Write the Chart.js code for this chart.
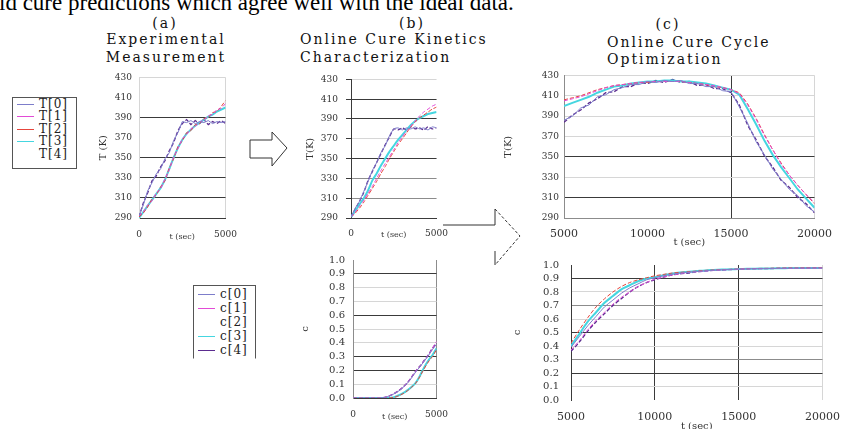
<!DOCTYPE html>
<html>
<head>
<meta charset="utf-8">
<script src="https://cdn.jsdelivr.net/npm/chart.js@4.4.0/dist/chart.umd.min.js"></script>
<style>
body { margin: 0; width: 854px; height: 429px; overflow: hidden; background: #fff; position: relative; font-family: "DejaVu Serif", serif; color: #111; }
canvas { position: absolute; }
.line { position: absolute; white-space: nowrap; font-size: 14px; letter-spacing: 2px; line-height: 16px; }
.mid { transform: translateX(-50%); }
.top { position: absolute; left: -1px; top: -9px; font-family: "Liberation Serif", serif; font-size: 23px; line-height: 23px; white-space: nowrap; color: #000; }
.leg { position: absolute; border: 1px solid #555; background: #fff; }
.row { position: absolute; left: 0; height: 12px; font-size: 12px; line-height: 12px; letter-spacing: 1px; white-space: nowrap; color: #222; }
.row span.s { position: absolute; top: 6px; width: 17px; border-top-width: 1px; }
.row span.t { position: absolute; top: 0; }
svg { position: absolute; left: 0; top: 0; }
</style>
</head>
<body>
<div class="top">ld cure predictions which agree well with the ideal data.</div>

<div class="line mid" style="left:165px;top:15px">(a)</div>
<div class="line mid" style="left:166px;top:31px">Experimental</div>
<div class="line mid" style="left:166px;top:49px">Measurement</div>
<div class="line mid" style="left:412px;top:15px">(b)</div>
<div class="line" style="left:300px;top:31px">Online Cure Kinetics</div>
<div class="line" style="left:300px;top:49px">Characterization</div>
<div class="line mid" style="left:668px;top:16px">(c)</div>
<div class="line" style="left:607px;top:34px">Online Cure Cycle</div>
<div class="line" style="left:607px;top:51px">Optimization</div>

<canvas id="aT"></canvas>
<canvas id="bT"></canvas>
<canvas id="bC"></canvas>
<canvas id="cT"></canvas>
<canvas id="cC"></canvas>

<div class="leg" id="legT" style="left:12px;top:97px;width:63px;height:70px"></div>
<div class="leg" id="legC" style="left:193px;top:285px;width:61px;height:72px;border-bottom-color:transparent"></div>

<svg width="854" height="429">
  <polygon points="250,140 272,140 272,132 287,148 272,166 272,158 250,158" fill="none" stroke="#333" stroke-width="1"/>
  <path d="M443,225 L495,225 L495,209" fill="none" stroke="#333" stroke-width="1"/>
  <path d="M495,209 L520,236 L495,265" fill="none" stroke="#333" stroke-width="1" stroke-dasharray="3,2"/>
  <path d="M495,265 L495,251" fill="none" stroke="#333" stroke-width="1"/>
</svg>

<script>
// time axes (sec)
const tShort = [0, 250, 500, 750, 1000, 1250, 1500, 1750, 2000, 2250, 2500, 2750, 3000, 3250, 3500, 3750, 4000, 4250, 4500, 4750, 5000];
const tLong = [5000, 5500, 6000, 6500, 7000, 7500, 8000, 8500, 9000, 9500, 10000, 10500, 11000, 11500, 12000, 12500, 13000, 13500, 14000, 14500, 15000, 15500, 16000, 16500, 17000, 17500, 18000, 18500, 19000, 19500, 20000];

const tNames = ['T[0]', 'T[1]', 'T[2]', 'T[3]', 'T[4]'];
const cNames = ['c[0]', 'c[1]', 'c[2]', 'c[3]', 'c[4]'];

// (a) experimental measurement, T (K)
const measT0 = [292, 303, 317, 325, 334, 339, 349, 355, 367, 375, 386, 385, 387, 384, 386, 385, 387, 384, 386, 385, 386];
const measT1 = [292, 296, 303, 307, 315, 319, 329, 338, 351, 359, 369, 373, 379, 381, 386, 387, 392, 393, 398, 399, 404];
const measT2 = [291, 295, 301, 309, 313, 321, 327, 340, 349, 361, 367, 375, 377, 383, 384, 389, 390, 395, 396, 401, 407];
const measT3 = [290, 296, 302, 308, 314, 320, 328, 339, 350, 360, 368, 374, 378, 382, 385, 388, 391, 393, 396, 398, 400];
const measT4 = [291, 305, 315, 327, 332, 341, 347, 357, 365, 377, 384, 388, 383, 387, 384, 388, 383, 386, 384, 387, 384];

// (b) kinetics characterization, T (K)
const kinT0 = [291, 300, 307, 317, 327, 338, 346, 356, 363, 373, 380, 381, 379, 381, 380, 382, 380, 381, 379, 382, 381];
const kinT1 = [291, 296, 302, 308, 315, 322, 330, 338, 345, 352, 359, 366, 372, 378, 383, 388, 393, 397, 400, 403, 405];
const kinT2 = [291, 295, 300, 306, 313, 320, 327, 335, 342, 350, 357, 364, 370, 376, 382, 387, 391, 394, 397, 400, 402];
const kinT3 = [291, 297, 304, 310, 318, 328, 335, 343, 350, 357, 363, 369, 374, 379, 384, 388, 391, 393, 395, 396, 397];
const kinT4 = [291, 299, 307, 316, 328, 337, 346, 355, 364, 372, 380, 379, 381, 379, 382, 380, 381, 379, 382, 380, 381];

// (b) degree of cure c
const kinC0 = [0, 0, 0, 0, 0, 0, 0, 0.002, 0.007, 0.018, 0.033, 0.052, 0.077, 0.107, 0.145, 0.188, 0.225, 0.265, 0.305, 0.35, 0.39];
const kinC1 = [0, 0, 0, 0, 0, 0, 0, 0.002, 0.008, 0.02, 0.035, 0.055, 0.08, 0.11, 0.15, 0.195, 0.23, 0.27, 0.31, 0.36, 0.41];
const kinC2 = [0, 0, 0, 0, 0, 0, 0, 0, 0, 0.001, 0.006, 0.017, 0.032, 0.052, 0.077, 0.107, 0.155, 0.21, 0.26, 0.3, 0.35];
const kinC3 = [0, 0, 0, 0, 0, 0, 0, 0, 0, 0.002, 0.008, 0.02, 0.035, 0.055, 0.08, 0.11, 0.16, 0.22, 0.27, 0.31, 0.36];
const kinC4 = [0, 0, 0, 0, 0, 0, 0, 0.002, 0.008, 0.02, 0.035, 0.055, 0.08, 0.11, 0.15, 0.195, 0.23, 0.27, 0.31, 0.36, 0.40];

// (c) cure cycle optimization, T (K)
const optT0 = [386, 390, 398, 401, 409, 411, 416, 418, 421, 421, 424, 423, 425, 424, 425, 422, 422, 419, 419, 415, 414, 399, 383, 365, 352, 338, 328, 318, 312, 302, 296];
const optT1 = [405, 407, 409, 412, 415, 418, 420, 421, 422, 423, 424, 424, 424, 424, 424, 423, 422, 421, 420, 418, 416, 412, 401, 387, 371, 357, 343, 332, 322, 313, 305];
const optT2 = [406, 408, 410, 413, 416, 418, 420, 421, 422, 423, 423, 424, 424, 424, 424, 423, 422, 421, 419, 418, 416, 413, 402, 388, 372, 357, 344, 332, 322, 313, 304];
const optT3 = [400, 403, 406, 409, 413, 416, 419, 420, 422, 423, 424, 424, 425, 425, 424, 424, 423, 422, 420, 418, 416, 411, 397, 382, 366, 352, 340, 329, 318, 309, 300];
const optT4 = [384, 391, 396, 403, 407, 413, 414, 419, 419, 423, 422, 425, 423, 426, 423, 424, 420, 421, 417, 417, 413, 401, 381, 367, 351, 340, 327, 320, 310, 304, 295];

// (c) degree of cure c
const optC0 = [0.39, 0.47, 0.55, 0.62, 0.69, 0.74, 0.79, 0.83, 0.86, 0.89, 0.905, 0.92, 0.93, 0.94, 0.945, 0.952, 0.957, 0.961, 0.964, 0.967, 0.969, 0.971, 0.972, 0.973, 0.974, 0.975, 0.976, 0.976, 0.977, 0.977, 0.978];
const optC1 = [0.37, 0.44, 0.52, 0.59, 0.65, 0.71, 0.76, 0.80, 0.84, 0.87, 0.895, 0.91, 0.925, 0.935, 0.945, 0.95, 0.955, 0.96, 0.963, 0.966, 0.969, 0.971, 0.972, 0.973, 0.974, 0.975, 0.975, 0.976, 0.976, 0.977, 0.977];
const optC2 = [0.42, 0.52, 0.61, 0.69, 0.75, 0.80, 0.84, 0.87, 0.89, 0.905, 0.92, 0.93, 0.94, 0.945, 0.95, 0.955, 0.96, 0.963, 0.966, 0.968, 0.97, 0.972, 0.974, 0.975, 0.976, 0.977, 0.978, 0.978, 0.979, 0.979, 0.98];
const optC3 = [0.40, 0.49, 0.58, 0.65, 0.72, 0.77, 0.82, 0.85, 0.88, 0.90, 0.91, 0.925, 0.935, 0.945, 0.95, 0.955, 0.96, 0.963, 0.966, 0.968, 0.97, 0.972, 0.973, 0.974, 0.975, 0.976, 0.977, 0.977, 0.978, 0.978, 0.978];
const optC4 = [0.36, 0.43, 0.51, 0.58, 0.64, 0.70, 0.75, 0.80, 0.84, 0.87, 0.89, 0.91, 0.925, 0.935, 0.94, 0.95, 0.955, 0.96, 0.963, 0.966, 0.97, 0.971, 0.972, 0.973, 0.974, 0.975, 0.975, 0.976, 0.976, 0.977, 0.977];

const colors = ['#7d7dca', '#e24bd6', '#e6453c', '#45d6e0', '#5b2c8f'];
const dashes = [[], [4, 2], [4, 2], [], [4, 2]];
const widths = [1, 1, 1, 2, 1.3];

var DARK = '#3a3a3a', MID = '#8c8c8c', LIGHT = '#d6d6d6', NONE = 'rgba(0,0,0,0)';

function sets(t, arrs, tension) {
    return arrs.map(function (a, i) {
        return {
            data: t.map(function (x, j) { return { x: x, y: a[j] }; }),
            borderColor: colors[i],
            borderDash: dashes[i],
            borderWidth: widths[i],
            pointRadius: 0,
            tension: tension
        };
    });
}

function byLabel(map, fallback) {
    return function (ctx) {
        if (!ctx.tick) return fallback;
        var c = map[ctx.tick.label];
        return c === undefined ? fallback : c;
    };
}

function panel(id, p) {
    var pt = 8, pr = 18;
    var cv = document.getElementById(id);
    var w = p.yw + (p.x2 - p.x1) + pr;
    var h = pt + (p.y2 - p.y1) + p.xh;
    cv.width = w; cv.height = h;
    cv.style.left = (p.x1 - p.yw) + 'px';
    cv.style.top = (p.y1 - pt) + 'px';
    cv.style.width = w + 'px'; cv.style.height = h + 'px';

    return new Chart(cv, {
        type: 'line',
        data: { datasets: p.datasets },
        options: {
            responsive: false,
            animation: false,
            layout: { padding: { top: pt, right: pr, left: 0, bottom: 0 } },
            plugins: { legend: { display: false }, tooltip: { enabled: false } },
            scales: {
                x: {
                    type: 'linear', min: p.xmin, max: p.xmax,
                    afterFit: function (s) { s.height = p.xh; },
                    ticks: {
                        stepSize: 5000, padding: p.xpad, maxRotation: 0, autoSkip: false, color: '#333',
                        font: { family: 'DejaVu Serif', size: p.xfont },
                        callback: function (v) { return String(v); }
                    },
                    grid: { color: byLabel(p.xgrid, NONE), drawTicks: false },
                    border: { color: p.xborder },
                    title: { display: true, text: 't (sec)', color: '#333', padding: 0,
                        font: { family: 'DejaVu Serif', size: p.xfont - 1 } }
                },
                y: {
                    min: p.ymin, max: p.ymax,
                    afterFit: function (s) { s.width = p.yw; },
                    ticks: {
                        stepSize: p.ystep, padding: p.ypad, autoSkip: false, color: '#333',
                        font: { family: 'DejaVu Serif', size: p.yfont },
                        callback: function (v) { return p.ydec ? v.toFixed(1) : String(Math.round(v)); }
                    },
                    grid: { color: byLabel(p.ygrid, LIGHT), drawTicks: !!p.ytick, tickLength: p.ytick || 0, tickColor: DARK },
                    border: { color: p.yborder },
                    title: { display: true, text: p.ytitle, color: '#333', padding: { top: 0, bottom: 0 },
                        font: { family: 'DejaVu Serif', size: 10 } }
                }
            }
        }
    });
}

panel('aT', {
    x1: 139, x2: 230, y1: 73, y2: 218, yw: 42, xh: 24,
    xmin: 0, xmax: 5000, xpad: 11, xfont: 9,
    ymin: 290, ymax: 430, ystep: 20, ypad: 7, yfont: 9, ytitle: 'T (K)',
    xgrid: { '0': LIGHT, '5000': LIGHT }, xborder: DARK,
    ygrid: { '430': LIGHT, '410': NONE, '390': DARK, '370': NONE, '350': DARK, '330': DARK, '310': DARK, '290': DARK },
    yborder: LIGHT,
    datasets: sets(tShort, [measT0, measT1, measT2, measT3, measT4], 0)
});

panel('bT', {
    x1: 351, x2: 440, y1: 74, y2: 218, yw: 47, xh: 22,
    xmin: 0, xmax: 5000, xpad: 10, xfont: 9,
    ymin: 290, ymax: 430, ystep: 20, ypad: 8, yfont: 9, ytitle: 'T(K)', ytick: 5,
    xgrid: {}, xborder: DARK,
    ygrid: { '430': LIGHT, '410': DARK, '390': DARK, '370': LIGHT, '350': DARK, '330': MID, '310': MID, '290': DARK },
    yborder: DARK,
    datasets: sets(tShort, [kinT0, kinT1, kinT2, kinT3, kinT4], 0.2)
});

panel('bC', {
    x1: 353, x2: 441, y1: 254, y2: 398, yw: 54, xh: 24,
    xmin: 0, xmax: 5000, xpad: 11, xfont: 9,
    ymin: 0, ymax: 1, ystep: 0.1, ypad: 8, yfont: 10, ydec: true, ytitle: 'c',
    xgrid: { '0': MID, '5000': MID }, xborder: DARK,
    ygrid: { '1.0': NONE, '0.9': DARK, '0.8': LIGHT, '0.7': LIGHT, '0.6': DARK, '0.5': LIGHT, '0.4': LIGHT, '0.3': DARK, '0.2': DARK, '0.1': LIGHT, '0.0': DARK },
    yborder: MID,
    datasets: sets(tShort, [kinC0, kinC1, kinC2, kinC3, kinC4], 0.3)
});

panel('cT', {
    x1: 564, x2: 824, y1: 73, y2: 218, yw: 62, xh: 30,
    xmin: 5000, xmax: 20000, xpad: 10, xfont: 11,
    ymin: 290, ymax: 430, ystep: 20, ypad: 5, yfont: 9, ytitle: 'T(K)',
    xgrid: { '5000': MID, '10000': NONE, '15000': DARK, '20000': LIGHT }, xborder: MID,
    ygrid: { '430': LIGHT, '410': LIGHT, '390': LIGHT, '370': LIGHT, '350': DARK, '330': LIGHT, '310': DARK, '290': MID },
    yborder: MID,
    datasets: sets(tLong, [optT0, optT1, optT2, optT3, optT4], 0)
});

panel('cC', {
    x1: 571, x2: 833, y1: 255, y2: 400, yw: 60, xh: 32,
    xmin: 5000, xmax: 20000, xpad: 11, xfont: 11,
    ymin: 0, ymax: 1, ystep: 0.1, ypad: 12, yfont: 10, ydec: true, ytitle: 'c',
    xgrid: { '5000': DARK, '10000': DARK, '15000': DARK, '20000': LIGHT }, xborder: NONE,
    ygrid: { '1.0': NONE, '0.9': DARK, '0.8': LIGHT, '0.7': MID, '0.6': LIGHT, '0.5': DARK, '0.4': LIGHT, '0.3': MID, '0.2': DARK, '0.1': LIGHT, '0.0': NONE },
    yborder: DARK,
    datasets: sets(tLong, [optC0, optC1, optC2, optC3, optC4], 0.3)
});

// html legends
function legend(id, names, rowTops, hidden) {
    var box = document.getElementById(id);
    names.forEach(function (n, i) {
        var r = document.createElement('div');
        r.className = 'row';
        r.style.top = rowTops[i] + 'px';
        var s = document.createElement('span');
        s.className = 's';
        s.style.left = '4px';
        s.style.borderTopStyle = 'solid';
        s.style.borderTopColor = hidden.indexOf(i) >= 0 ? 'transparent' : colors[i];
        var t = document.createElement('span');
        t.className = 't';
        t.style.left = '26px';
        t.textContent = n;
        r.appendChild(s);
        r.appendChild(t);
        box.appendChild(r);
    });
}
legend('legT', tNames, [0, 12, 25, 37, 50], [4]);
legend('legC', cNames, [2, 16, 30, 44, 58], [2]);
</script>
</body>
</html>
